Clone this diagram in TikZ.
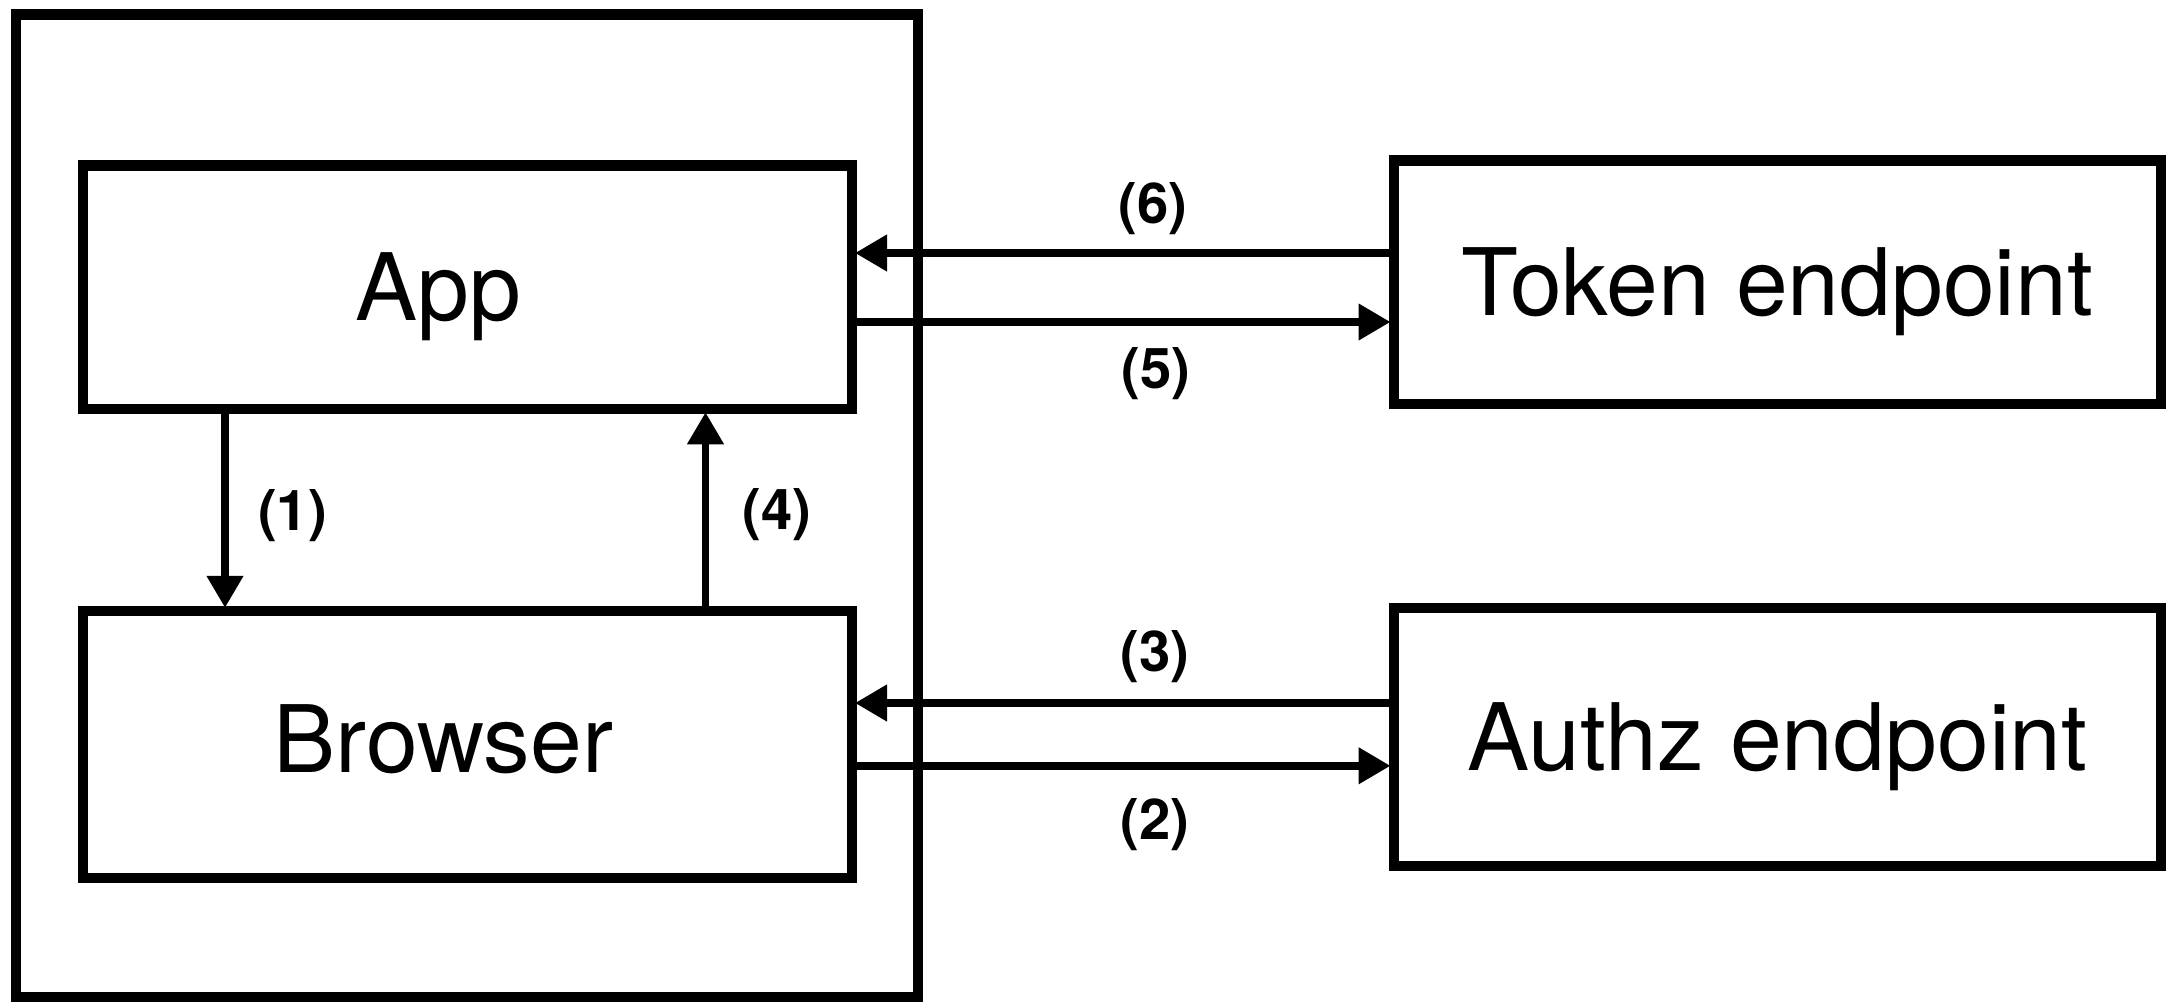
\documentclass[tikz,border=0pt]{standalone}
\usepackage{fontspec}
\setmainfont{TeX Gyre Heros}
\usetikzlibrary{arrows.meta}
\usetikzlibrary{calc}

\begin{document}
\begin{tikzpicture}[
        box/.style={draw, line width=0.105cm, inner sep=0pt, outer sep=0.0525cm},
        txt/.style={font=\fontsize{26.5}{30}\selectfont, text height=0.67cm, text depth=0pt},
        num/.style={font=\fontsize{16}{19}\selectfont\bfseries, inner sep=0pt},
        flow/.style={-{Triangle[length=0.32cm,width=0.35cm]}, line width=0.075cm, shorten >=-0.02cm}]

        \useasboundingbox (0,0) rectangle (21.66,-10.02);

        \node[box, minimum width=9.02cm, minimum height=9.827cm] (device) at (4.67,-5.0565) {};
        \node[box, minimum width=7.687cm, minimum height=2.433cm,
              label={[name=apptext, txt, xshift=-0.29cm]center:App}] (app) at (4.674,-2.874) {};
        \node[box, minimum width=7.687cm, minimum height=2.667cm,
              label={[name=browsertext, txt, xshift=-0.24cm, yshift=0.05cm]center:Browser}] (browser) at (4.674,-7.444) {};
        \node[box, txt, minimum width=7.673cm, minimum height=2.433cm] (token) at (17.774,-2.822) {Token endpoint};
        \node[box, txt, minimum width=7.673cm, minimum height=2.58cm] (authz) at (17.774,-7.37) {Authz endpoint};

        \draw[flow] (app.south -| 2.25,0) -- node[num, xshift=0.675cm, yshift=-0.058cm] (n1) {(1)} (browser.north -| 2.25,0);
        \draw[flow] (browser.east |- 0,-7.658) -- node[num, pos=0.561, yshift=-0.592cm] (n2) {(2)} (authz.west |- 0,-7.658);
        \draw[flow] (authz.west |- 0,-7.03) -- node[num, pos=0.439, yshift=0.463cm] (n3) {(3)} (browser.east |- 0,-7.03);
        \draw[flow] (browser.north -| 7.055,0) -- node[num, xshift=0.712cm, yshift=-0.05cm] (n4) {(4)} (app.south -| 7.055,0);
        \draw[flow] (app.east |- 0,-3.22) -- node[num, pos=0.562, yshift=-0.52cm] (n5) {(5)} (token.west |- 0,-3.22);
        \draw[flow] (token.west |- 0,-2.53) -- node[num, pos=0.443, yshift=0.443cm] (n6) {(6)} (app.east |- 0,-2.53);
\end{tikzpicture}
\end{document}
